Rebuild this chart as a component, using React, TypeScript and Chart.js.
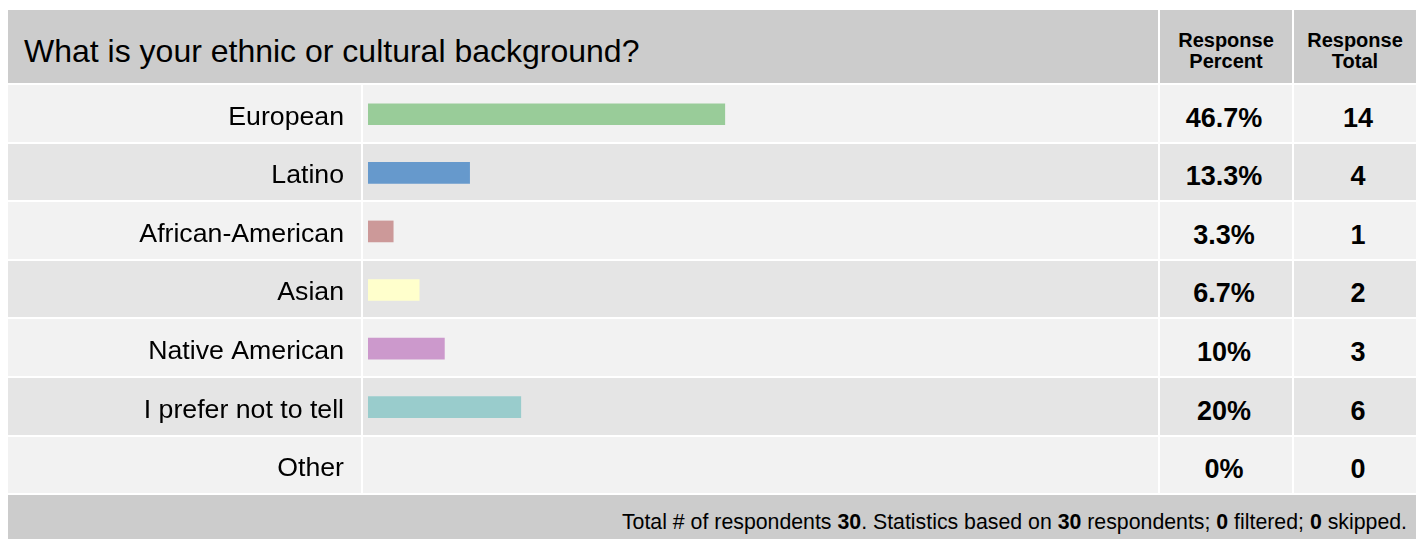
import React, { useEffect, useRef } from "react";
import { Chart, registerables } from "chart.js";

Chart.register(...registerables);

const TITLE = "What is your ethnic or cultural background?";
const HEADER_PERCENT = ["Response", "Percent"];
const HEADER_TOTAL = ["Response", "Total"];
const categories = [
  "European",
  "Latino",
  "African-American",
  "Asian",
  "Native American",
  "I prefer not to tell",
  "Other",
];
const percentValues = [46.7, 13.3, 3.3, 6.7, 10, 20, 0];
const percentLabels = ["46.7%", "13.3%", "3.3%", "6.7%", "10%", "20%", "0%"];
const totals = [14, 4, 1, 2, 3, 6, 0];
const barColors = ["#99cc99", "#6699cc", "#cc9999", "#ffffcc", "#cc99cc", "#99cccc", "#99cc99"];
const respondents = 30;
const basedOn = 30;
const filtered = 0;
const skipped = 0;

const FONT = '"Liberation Sans", Arial, Helvetica, sans-serif';
const ROW_TOP = 85;
const ROW_STEP = 58.6;
const ROW_H = 56.6;

function BarChart() {
  const ref = useRef<HTMLCanvasElement | null>(null);
  useEffect(() => {
    if (!ref.current) return;
    const chart = new Chart(ref.current, {
      type: "bar",
      data: {
        labels: categories,
        datasets: [
          {
            data: percentValues,
            backgroundColor: (ctx: any) =>
              percentValues[ctx.dataIndex] > 0 ? barColors[ctx.dataIndex] : "rgba(0,0,0,0)",
            borderWidth: 0,
            barThickness: 21,
          },
        ],
      },
      options: {
        indexAxis: "y",
        responsive: false,
        animation: false,
        devicePixelRatio: 1,
        layout: { padding: { left: 0, right: 26, top: 0, bottom: 0 } },
        plugins: {
          legend: { display: false },
          tooltip: { enabled: false },
          title: { display: false },
        },
        scales: {
          x: {
            display: false,
            min: 0,
            max: 100,
          },
          y: {
            display: true,
            grid: { display: false, drawTicks: false },
            border: { display: false },
            afterFit: (scale: any) => {
              scale.width = 360;
              scale.paddingTop = 0;
              scale.paddingBottom = 0;
            },
            ticks: {
              padding: 24,
              labelOffset: 3,
              color: "#000",
              font: { family: FONT, size: 26.7 },
            },
          },
        },
      },
    });
    return () => chart.destroy();
  }, []);
  return (
    <canvas
      ref={ref}
      width={1150}
      height={410}
      style={{ position: "absolute", left: 8, top: 85, width: 1150, height: 410 }}
    />
  );
}

export default function App() {
  const cell = (left: number, top: number, width: number, height: number, bg: string) => (
    <div style={{ position: "absolute", left, top, width, height, background: bg }} />
  );
  const headerText = (lines: string[], left: number, width: number) => (
    <div
      style={{
        position: "absolute",
        left,
        width,
        top: 30,
        textAlign: "center",
        fontFamily: FONT,
        fontWeight: "bold",
        fontSize: 20,
        lineHeight: "21px",
        color: "#000",
      }}
    >
      {lines[0]}
      <br />
      {lines[1]}
    </div>
  );
  const valueStyle = {
    position: "absolute" as const,
    textAlign: "center" as const,
    fontFamily: FONT,
    fontWeight: "bold" as const,
    fontSize: 27,
    lineHeight: "27px",
    color: "#000",
  };
  return (
    <div
      style={{
        position: "fixed",
        left: 0,
        top: 0,
        width: 1416,
        height: 539,
        overflow: "hidden",
        background: "#fff",
      }}
    >
      {cell(8, 10, 1150, 73, "#cccccc")}
      {cell(1160, 10, 132, 73, "#cccccc")}
      {cell(1294, 10, 122, 73, "#cccccc")}
      <div
        style={{
          position: "absolute",
          left: 24,
          top: 35,
          fontFamily: FONT,
          fontSize: 32,
          lineHeight: "32px",
          color: "#000",
          whiteSpace: "nowrap",
        }}
      >
        {TITLE}
      </div>
      {headerText(HEADER_PERCENT, 1160, 132)}
      {headerText(HEADER_TOTAL, 1294, 122)}
      {categories.map((c, i) => {
        const top = ROW_TOP + i * ROW_STEP;
        const bg = i % 2 === 0 ? "#f2f2f2" : "#e5e5e5";
        return (
          <React.Fragment key={c}>
            {cell(8, top, 353, ROW_H, bg)}
            {cell(363, top, 795, ROW_H, bg)}
            {cell(1160, top, 132, ROW_H, bg)}
            {cell(1294, top, 122, ROW_H, bg)}
            <div style={{ ...valueStyle, left: 1158, width: 132, top: top + 19.5 }}>
              {percentLabels[i]}
            </div>
            <div style={{ ...valueStyle, left: 1297, width: 122, top: top + 19.5 }}>
              {totals[i]}
            </div>
          </React.Fragment>
        );
      })}
      {cell(8, ROW_TOP + 7 * ROW_STEP, 1408, 60, "#cccccc")}
      <div
        style={{
          position: "absolute",
          right: 9,
          top: ROW_TOP + 7 * ROW_STEP + 17,
          fontFamily: FONT,
          fontSize: 21.3,
          lineHeight: "21px",
          color: "#000",
          whiteSpace: "nowrap",
          textAlign: "right",
        }}
      >
        Total # of respondents <b>{respondents}</b>. Statistics based on <b>{basedOn}</b> respondents;{" "}
        <b>{filtered}</b> filtered; <b>{skipped}</b> skipped.
      </div>
      <BarChart />
    </div>
  );
}
